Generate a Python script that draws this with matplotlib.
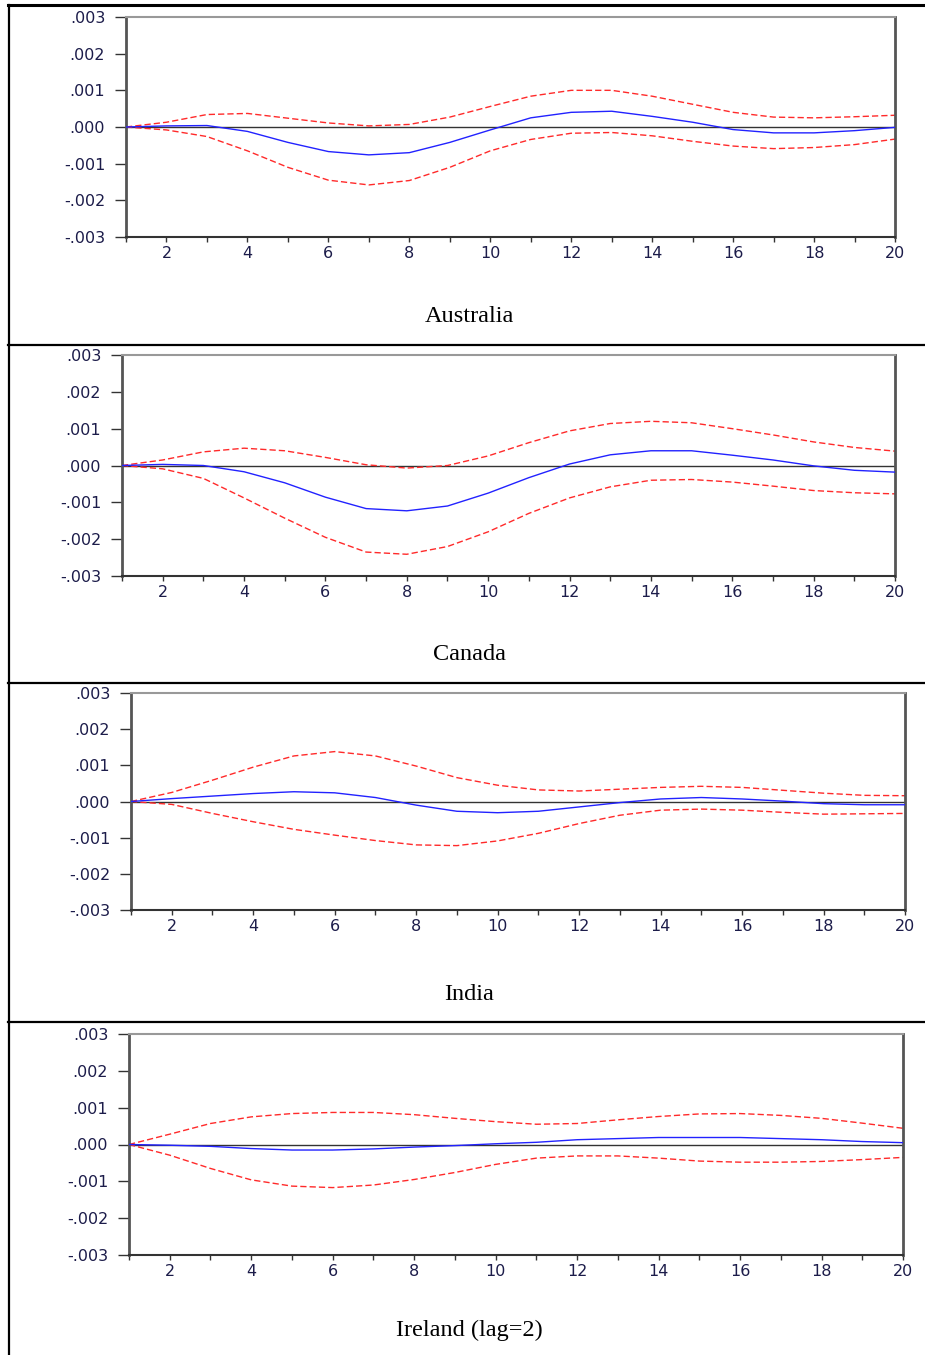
import numpy as np
import matplotlib
matplotlib.use("Agg")
import matplotlib.pyplot as plt
from matplotlib.lines import Line2D
from matplotlib.ticker import FixedLocator, FuncFormatter

# ---------------- data ----------------
periods = list(range(1, 21))

aus_resp = [0, 0.00003, 0.00004, -0.00012, -0.00042, -0.00067, -0.00076, -0.00070, -0.00042, -0.00008,
            0.00025, 0.00040, 0.00043, 0.00029, 0.00013, -0.00007, -0.00016, -0.00016, -0.00010, -0.00001]
aus_upper = [0, 0.00013, 0.00034, 0.00037, 0.00024, 0.00011, 0.00003, 0.00007, 0.00027, 0.00056,
             0.00084, 0.00100, 0.00100, 0.00084, 0.00062, 0.00040, 0.00027, 0.00025, 0.00028, 0.00032]
aus_lower = [0, -0.00008, -0.00026, -0.00065, -0.00110, -0.00145, -0.00158, -0.00146, -0.00110, -0.00065,
             -0.00034, -0.00017, -0.00015, -0.00024, -0.00039, -0.00052, -0.00059, -0.00056, -0.00048, -0.00033]

can_resp = [0, 0.00003, 0.00000, -0.00017, -0.00047, -0.00086, -0.00117, -0.00123, -0.00110, -0.00075,
            -0.00033, 0.00004, 0.00029, 0.00040, 0.00040, 0.00028, 0.00015, -0.00001, -0.00013, -0.00018]
can_upper = [0, 0.00015, 0.00037, 0.00047, 0.00040, 0.00022, 0.00002, -0.00007, 0.00000, 0.00026,
             0.00062, 0.00094, 0.00114, 0.00120, 0.00116, 0.00100, 0.00083, 0.00064, 0.00049, 0.00039]
can_lower = [0, -0.00009, -0.00035, -0.00088, -0.00143, -0.00195, -0.00235, -0.00241, -0.00220, -0.00180,
             -0.00130, -0.00088, -0.00058, -0.00040, -0.00038, -0.00045, -0.00056, -0.00068, -0.00074, -0.00077]

ind_resp = [0, 0.00008, 0.00015, 0.00022, 0.00027, 0.00024, 0.00011, -0.00010, -0.00027, -0.00031,
            -0.00027, -0.00015, -0.00003, 0.00007, 0.00011, 0.00007, 0.00001, -0.00006, -0.00009, -0.00009]
ind_upper = [0, 0.00025, 0.00059, 0.00095, 0.00126, 0.00138, 0.00126, 0.00098, 0.00066, 0.00045,
             0.00032, 0.00029, 0.00034, 0.00039, 0.00042, 0.00039, 0.00031, 0.00023, 0.00017, 0.00016]
ind_lower = [0, -0.00008, -0.00033, -0.00056, -0.00077, -0.00093, -0.00108, -0.00120, -0.00122, -0.00109,
             -0.00088, -0.00061, -0.00038, -0.00024, -0.00021, -0.00024, -0.00030, -0.00035, -0.00034, -0.00033]

irl_resp = [0, -0.00002, -0.00005, -0.00011, -0.00015, -0.00015, -0.00012, -0.00007, -0.00003, 0.00002,
            0.00006, 0.00013, 0.00016, 0.00019, 0.00019, 0.00019, 0.00016, 0.00013, 0.00008, 0.00005]
irl_upper = [0, 0.00028, 0.00057, 0.00075, 0.00084, 0.00087, 0.00087, 0.00081, 0.00071, 0.00062,
             0.00055, 0.00057, 0.00067, 0.00076, 0.00083, 0.00084, 0.00079, 0.00071, 0.00058, 0.00044]
irl_lower = [0, -0.00029, -0.00065, -0.00096, -0.00113, -0.00117, -0.00110, -0.00095, -0.00076, -0.00054,
             -0.00037, -0.00031, -0.00031, -0.00037, -0.00045, -0.00048, -0.00048, -0.00046, -0.00041, -0.00035]

panel_titles = ["Australia", "Canada", "India", "Ireland (lag=2)"]
y_ticks = [-0.003, -0.002, -0.001, 0.0, 0.001, 0.002, 0.003]
x_label_ticks = [2, 4, 6, 8, 10, 12, 14, 16, 18, 20]

# ---------------- layout ----------------
W, H = 925, 1355
fig = plt.figure(figsize=(W / 100, H / 100), dpi=100)
fig.patch.set_facecolor("white")

# axes boxes in pixels: left, right, top, bottom
boxes = [(126, 895, 17, 237), (122, 895, 355, 576), (131, 905, 693, 910), (129, 903, 1034, 1255)]
title_y = [317, 654, 994, 1330]
series = [(aus_resp, aus_upper, aus_lower), (can_resp, can_upper, can_lower),
          (ind_resp, ind_upper, ind_lower), (irl_resp, irl_upper, irl_lower)]


def fmt(v, pos):
    if abs(v) < 1e-12:
        return ".000"
    s = "%.3f" % v
    return s.replace("0.", ".")


for (l, r, t, b), (resp, up, lo), title, ty in zip(boxes, series, panel_titles, title_y):
    ax = fig.add_axes([l / W, 1 - b / H, (r - l) / W, (b - t) / H])
    ax.axhline(0, color="#333333", lw=1.0, zorder=1)
    ax.plot(periods, up, color="#ff2a2a", lw=1.0, ls=(0, (4.5, 2.2)), zorder=2)
    ax.plot(periods, lo, color="#ff2a2a", lw=1.0, ls=(0, (4.5, 2.2)), zorder=2)
    ax.plot(periods, resp, color="#2222ff", lw=1.0, zorder=3)
    ax.set_xlim(1, 20)
    ax.set_ylim(-0.003, 0.003)
    ax.set_yticks(y_ticks)
    ax.yaxis.set_major_formatter(FuncFormatter(fmt))
    ax.xaxis.set_major_locator(FixedLocator(x_label_ticks))
    ax.xaxis.set_minor_locator(FixedLocator([p for p in periods if p not in x_label_ticks]))
    ax.tick_params(axis="y", direction="out", length=8, width=1, colors="#333333", pad=7,
                   labelsize=11.5, labelcolor="#1c1c4a")
    ax.tick_params(axis="x", which="both", direction="out", length=3.8, width=1, colors="#333333")
    ax.tick_params(axis="x", which="major", pad=3, labelsize=11.5, labelcolor="#1c1c4a")
    ax.spines["top"].set_color("#999999")
    ax.spines["top"].set_linewidth(1.5)
    ax.spines["left"].set_color("#555555")
    ax.spines["left"].set_linewidth(2.0)
    ax.spines["right"].set_color("#555555")
    ax.spines["right"].set_linewidth(2.0)
    ax.spines["bottom"].set_color("#333333")
    ax.spines["bottom"].set_linewidth(1.5)
    fig.text(469 / W, 1 - ty / H, title, ha="center", va="center",
             family="Liberation Serif", fontsize=17.5, color="black")

# table frame lines
def hline(y, lw):
    fig.add_artist(Line2D([8 / W, 1.0], [1 - y / H, 1 - y / H], color="black", lw=lw,
                          transform=fig.transFigure))

hline(5, 2.2)
hline(345, 1.6)
hline(683, 1.6)
hline(1022, 1.6)
fig.add_artist(Line2D([8.5 / W, 8.5 / W], [1 - 5 / H, 0], color="black", lw=1.6,
                      transform=fig.transFigure))

fig.savefig("out.png", dpi=100)
